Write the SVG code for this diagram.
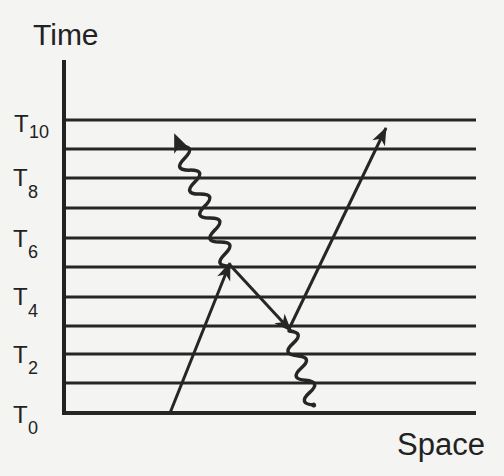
<svg xmlns="http://www.w3.org/2000/svg" width="504" height="476" viewBox="0 0 504 476">
<style>
.grid line{stroke:#262626;stroke-width:3;stroke-linecap:butt}
.ax{stroke:#222;stroke-width:4;fill:none}
.ln{stroke:#262626;stroke-width:3;fill:none}
.wv{stroke:#262626;stroke-width:3.5;fill:none;stroke-linecap:round;stroke-linejoin:round}
.ah{fill:#262626}
.lbl{font-family:"Liberation Sans",Arial,sans-serif;fill:#222}
.big{font-size:30px}
.t{font-size:24px}
.s{font-size:18px}
</style>
<defs>
<marker id="arr" markerUnits="userSpaceOnUse" markerWidth="22" markerHeight="18" viewBox="-19 -9 21 18" refX="0" refY="0" orient="auto">
<path d="M1,0 L-17,-7 L-12,0 L-17,7 z" fill="#262626"/>
</marker>
</defs>
<rect width="504" height="476" fill="#f4f4f2"/>
<g id="axes">
<g class="grid">
<line x1="64" y1="120" x2="476" y2="120"/>
<line x1="64" y1="149" x2="476" y2="149"/>
<line x1="64" y1="178" x2="476" y2="178"/>
<line x1="64" y1="208" x2="476" y2="208"/>
<line x1="64" y1="238" x2="476" y2="238"/>
<line x1="64" y1="267" x2="476" y2="267"/>
<line x1="64" y1="297" x2="476" y2="297"/>
<line x1="64" y1="326" x2="476" y2="326"/>
<line x1="64" y1="354" x2="476" y2="354"/>
<line x1="64" y1="383" x2="476" y2="383"/>
<line x1="62" y1="413" x2="476" y2="413" style="stroke-width:4"/>
</g>
<line class="ax" x1="64" y1="60" x2="64" y2="415"/>
</g>
<g id="labels" class="lbl">
<text class="big" x="33" y="45">Time</text>
<text class="big" x="397" y="455" style="font-size:31px">Space</text>
<text x="14" y="132"><tspan class="t">T</tspan><tspan class="s" x="29" y="138">10</tspan></text>
<text x="13" y="186"><tspan class="t">T</tspan><tspan class="s" x="28" y="198">8</tspan></text>
<text x="13" y="247"><tspan class="t">T</tspan><tspan class="s" x="28" y="258">6</tspan></text>
<text x="13" y="305"><tspan class="t">T</tspan><tspan class="s" x="28" y="317">4</tspan></text>
<text x="13" y="363"><tspan class="t">T</tspan><tspan class="s" x="28" y="374">2</tspan></text>
<text x="13" y="423"><tspan class="t">T</tspan><tspan class="s" x="28" y="434">0</tspan></text>
</g>
<g id="connectors">
<line class="ln" x1="170" y1="413" x2="230" y2="263" marker-end="url(#arr)"/>
<line class="ln" x1="230" y1="265" x2="291" y2="331" marker-end="url(#arr)"/>
<line class="ln" x1="289" y1="329" x2="386" y2="128" marker-end="url(#arr)"/>
<g id="photon-out" transform="translate(230,266) rotate(-112.8)">
<path class="wv" d="M0,0 q6.5,-16 13,0 t13,0 t13,0 t13,0 t13,0 t13,0 t13,0 t13,0 t13,0 t13,0"/>
<polygon class="ah" points="144,0 125,-8 130,0 125,8"/>
</g>
<g id="photon-in" transform="translate(289,331) rotate(71.6)">
<path class="wv" d="M0,0 q6.5,-15 13,0 t13,0 t13,0 t13,0 t13,0 t13,0"/>
<circle class="ah" cx="78" cy="0" r="2.5"/>
</g>
</g>
</svg>
